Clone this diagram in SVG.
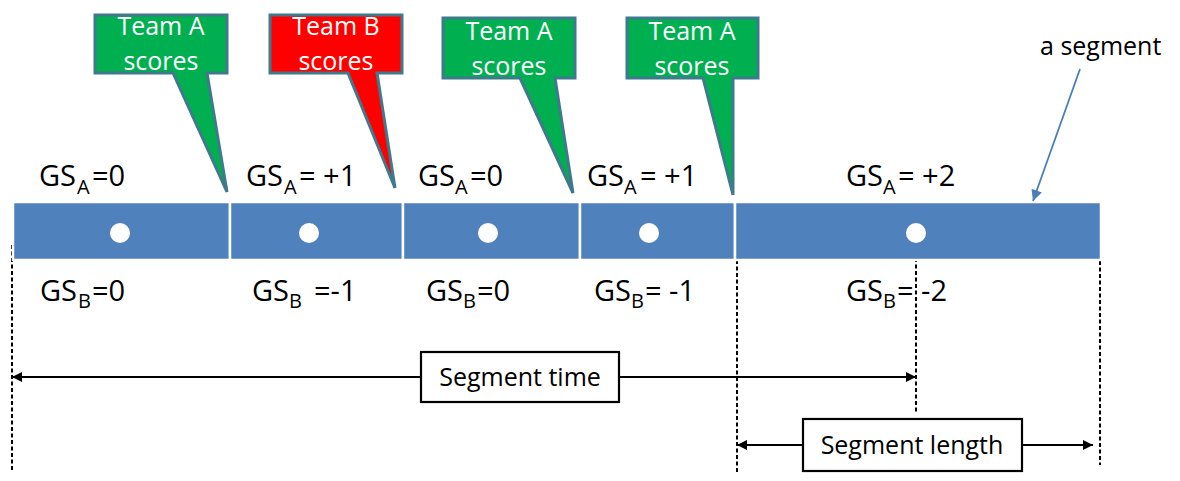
<svg xmlns="http://www.w3.org/2000/svg" width="1180" height="481" viewBox="0 0 1180 481">
<style>
.seg{fill:#4F81BD;stroke:#FFFFFF;stroke-width:2.5}
.dot{fill:#FFFFFF}
.co{stroke:#3F7A8C;stroke-width:3;stroke-linejoin:miter}
.coA{fill:#00B050}
.coB{fill:#FF0000}
.cot{font-family:"Open Sans","Liberation Sans",sans-serif;font-size:25px;fill:#FFFFFF;text-anchor:middle}
.gs{font-family:"Open Sans","Liberation Sans",sans-serif;font-size:29px;fill:#000000}
.sub{font-size:20px}
.lbl{font-family:"Open Sans","Liberation Sans",sans-serif;font-size:25px;fill:#000000}
.box{fill:#FFFFFF;stroke:#000000;stroke-width:2.2}
.dash{stroke:#000000;stroke-width:2;stroke-dasharray:4 2.5;fill:none}
.arr{stroke:#000000;stroke-width:2;fill:none}
.barr{stroke:#4A7EBB;stroke-width:1.8;fill:none}
</style>
<defs>
<marker id="ah" viewBox="0 0 10 10" refX="10" refY="5" markerWidth="13" markerHeight="10" markerUnits="userSpaceOnUse" orient="auto-start-reverse">
<path d="M0,0 L10,5 L0,10 Z" fill="#000000"/>
</marker>
<marker id="bh" viewBox="0 0 10 10" refX="10" refY="5" markerWidth="13" markerHeight="11" markerUnits="userSpaceOnUse" orient="auto">
<path d="M0,0 L10,5 L0,10 Z" fill="#4A7EBB"/>
</marker>
</defs>
<rect width="1180" height="481" fill="#FFFFFF"/>

<g id="guides">
<line class="dash" x1="12" y1="245" x2="12" y2="472"/>
<line class="dash" x1="737" y1="260" x2="737" y2="473"/>
<line class="dash" x1="916" y1="245" x2="916" y2="413"/>
<line class="dash" x1="1100" y1="235" x2="1100" y2="465"/>
</g>

<g id="bar">
<g id="seg1"><rect class="seg" x="13" y="202" width="217" height="58"/><circle class="dot" cx="120" cy="233" r="10"/></g>
<g id="seg2"><rect class="seg" x="230" y="202" width="173" height="58"/><circle class="dot" cx="309" cy="233" r="10"/></g>
<g id="seg3"><rect class="seg" x="403" y="202" width="177" height="58"/><circle class="dot" cx="488" cy="233" r="10"/></g>
<g id="seg4"><rect class="seg" x="580" y="202" width="155" height="58"/><circle class="dot" cx="649" cy="233" r="10"/></g>
<g id="seg5"><rect class="seg" x="735" y="202" width="366" height="58"/><circle class="dot" cx="916" cy="233" r="10"/></g>
</g>

<g id="callout1">
<path class="co coA" d="M95,15 H227 V73 H207 L227,192 L173,73 H95 Z"/>
<text class="cot" x="161" y="35">Team A</text>
<text class="cot" x="161" y="70">scores</text>
</g>
<g id="callout2">
<path class="co coB" d="M270,15 H402 V73 H377 L395,188 L348,73 H270 Z"/>
<text class="cot" x="336" y="35">Team B</text>
<text class="cot" x="336" y="70">scores</text>
</g>
<g id="callout3">
<path class="co coA" d="M443,18 H575 V78 H555 L573,193 L520,78 H443 Z"/>
<text class="cot" x="509" y="40">Team A</text>
<text class="cot" x="509" y="75">scores</text>
</g>
<g id="callout4">
<path class="co coA" d="M627,18 H758 V78 H733 L733,195 L703,78 H627 Z"/>
<text class="cot" x="692" y="40">Team A</text>
<text class="cot" x="692" y="75">scores</text>
</g>

<g id="labels-top">
<text class="gs" x="39" y="186">GS<tspan class="sub" x="77" y="194">A</tspan><tspan x="92" y="186">=0</tspan></text>
<text class="gs" x="246" y="186">GS<tspan class="sub" x="284" y="194">A</tspan><tspan x="299" y="186">= +1</tspan></text>
<text class="gs" x="418" y="186">GS<tspan class="sub" x="455" y="194">A</tspan><tspan x="470" y="186">=0</tspan></text>
<text class="gs" x="587" y="186">GS<tspan class="sub" x="624" y="194">A</tspan><tspan x="640" y="186">= +1</tspan></text>
<text class="gs" x="846" y="186">GS<tspan class="sub" x="883" y="194">A</tspan><tspan x="898" y="186">= +2</tspan></text>
</g>

<g id="labels-bottom">
<text class="gs" x="40" y="301">GS<tspan class="sub" x="78" y="308">B</tspan><tspan x="92" y="301">=0</tspan></text>
<text class="gs" x="252" y="301">GS<tspan class="sub" x="289" y="308">B</tspan><tspan x="314" y="301">=-1</tspan></text>
<text class="gs" x="426" y="301">GS<tspan class="sub" x="463" y="308">B</tspan><tspan x="477" y="301">=0</tspan></text>
<text class="gs" x="594" y="301">GS<tspan class="sub" x="631" y="308">B</tspan><tspan x="645" y="301">= -1</tspan></text>
<text class="gs" x="846" y="301">GS<tspan class="sub" x="883" y="308">B</tspan><tspan x="897" y="301">= -2</tspan></text>
</g>

<g id="a-segment-label">
<text class="lbl" x="1040" y="55">a segment</text>
</g>

<g id="connectors">
<line class="arr" x1="421" y1="377" x2="12" y2="377" marker-end="url(#ah)"/>
<line class="arr" x1="619" y1="377" x2="916" y2="377" marker-end="url(#ah)"/>
<line class="arr" x1="803" y1="445" x2="737" y2="445" marker-end="url(#ah)"/>
<line class="arr" x1="1022" y1="445" x2="1093" y2="445" marker-end="url(#ah)"/>
<line class="barr" x1="1080" y1="69" x2="1033" y2="201" marker-end="url(#bh)"/>
</g>

<g id="segment-time">
<rect class="box" x="421" y="352" width="198" height="50"/>
<text class="lbl" x="520" y="386" text-anchor="middle">Segment time</text>
</g>
<g id="segment-length">
<rect class="box" x="803" y="419" width="219" height="52"/>
<text class="lbl" x="912" y="454" text-anchor="middle">Segment length</text>
</g>
</svg>
